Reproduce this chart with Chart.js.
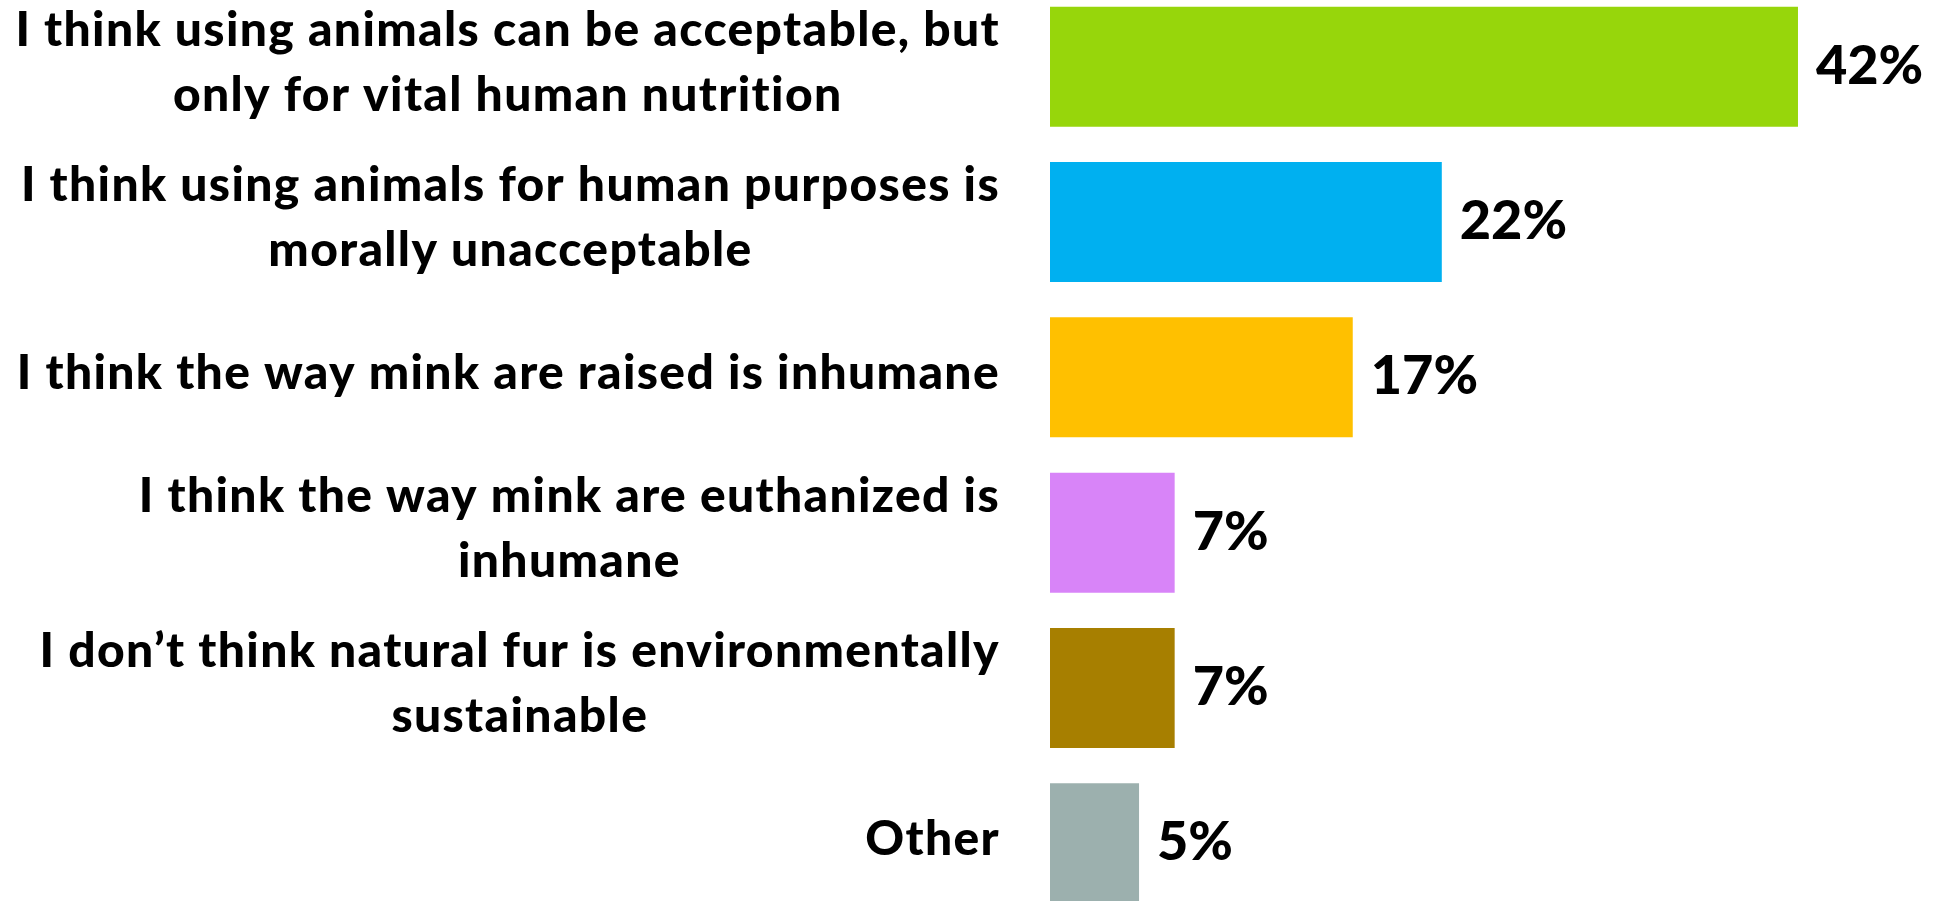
<!DOCTYPE html>
<html>
<head>
<meta charset="utf-8">
<title>Fur survey</title>
<script src="https://cdn.jsdelivr.net/npm/chart.js@4.4.1/dist/chart.umd.min.js"></script>
<style>
    html, body { margin: 0; padding: 0; background: #ffffff; overflow: hidden; }
    #wrap { position: absolute; left: 0; top: -11px; width: 1936px; height: 932px; }
</style>
</head>
<body>
<div id="wrap"><canvas id="chartMotivos"></canvas></div>
<script>
const categorias = [
    ["I think using animals can be acceptable, but", "only for vital human nutrition"],
    ["I think using animals for human purposes is", "morally unacceptable"],
    ["I think the way mink are raised is inhumane"],
    ["I think the way mink are euthanized is", "inhumane"],
    ["I don\u2019t think natural fur is environmentally", "sustainable"],
    ["Other"]
];
const valores = [42, 22, 17, 7, 7, 5];
const colores = ['#97d60b', '#00b0f0', '#ffc000', '#d884f8', '#a77f00', '#9cb0ae'];
const escalaMax = 49.75;

// labels on both sides of the bars
const etiquetas = {
    id: 'etiquetas',
    afterDatasetsDraw(chart) {
        const ctx = chart.ctx;
        const yScale = chart.scales.y;
        const meta = chart.getDatasetMeta(0);
        ctx.save();
        ctx.fillStyle = '#000000';
        ctx.textBaseline = 'alphabetic';

        ctx.font = '900 48px Lato';
        ctx.letterSpacing = '1.35px';
        ctx.textAlign = 'center';
        categorias.forEach(function (lineas, i) {
            let _yc = yScale.getPixelForValue(i);
            let _ancho = Math.max.apply(null, lineas.map(l => ctx.measureText(l).width));
            let _xc = 1000 - _ancho / 2;
            lineas.forEach(function (linea, j) {
                let _y = _yc + 11.5 + (j - (lineas.length - 1) / 2) * 65;
                ctx.fillText(linea, _xc, _y);
            });
        });

        ctx.font = '900 54px Lato';
        ctx.letterSpacing = '0px';
        ctx.textAlign = 'left';
        meta.data.forEach(function (bar, i) {
            ctx.fillText(valores[i] + '%', bar.x + 18, bar.y + 17);
        });
        ctx.restore();
    }
};

document.addEventListener('DOMContentLoaded', function () {
    new Chart(document.getElementById('chartMotivos').getContext('2d'), {
        type: 'bar',
        data: {
            labels: categorias,
            datasets: [{
                data: valores,
                backgroundColor: colores,
                borderWidth: 0,
                barPercentage: 0.772,
                categoryPercentage: 1
            }]
        },
        options: {
            indexAxis: 'y',
            responsive: true,
            maintainAspectRatio: false,
            animation: false,
            layout: { padding: { left: 1050, right: 0, top: 0, bottom: 0 } },
            plugins: {
                legend: { display: false },
                tooltip: { enabled: false }
            },
            scales: {
                x: { display: false, min: 0, max: escalaMax },
                y: { display: false, offset: true }
            }
        },
        plugins: [etiquetas]
    });
});
</script>
</body>
</html>
